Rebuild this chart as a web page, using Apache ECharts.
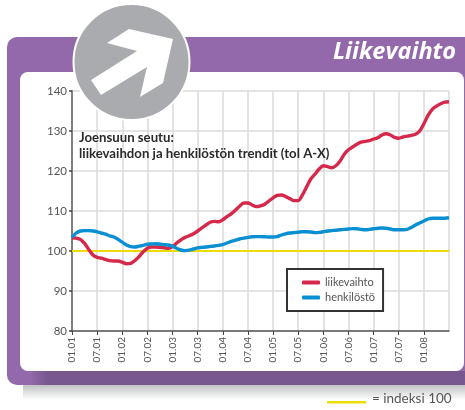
<!DOCTYPE html>
<html><head><meta charset="utf-8">
<style>html,body{margin:0;padding:0;background:#fff}#c{width:465px;height:410px}</style>
<script src="https://cdn.jsdelivr.net/npm/echarts@6/dist/echarts.min.js"></script>
</head><body><div id="c"></div>
<script>
const categories = [
"01.01","02.01","03.01","04.01","05.01","06.01","07.01","08.01","09.01","10.01","11.01","12.01",
"01.02","02.02","03.02","04.02","05.02","06.02","07.02","08.02","09.02","10.02","11.02","12.02",
"01.03","02.03","03.03","04.03","05.03","06.03","07.03","08.03","09.03","10.03","11.03","12.03",
"01.04","02.04","03.04","04.04","05.04","06.04","07.04","08.04","09.04","10.04","11.04","12.04",
"01.05","02.05","03.05","04.05","05.05","06.05","07.05","08.05","09.05","10.05","11.05","12.05",
"01.06","02.06","03.06","04.06","05.06","06.06","07.06","08.06","09.06","10.06","11.06","12.06",
"01.07","02.07","03.07","04.07","05.07","06.07","07.07","08.07","09.07","10.07","11.07","12.07",
"01.08","02.08","03.08","04.08","05.08","06.08",""];
const liikevaihto = [
103.3,103.2,102.9,101.9,100.4,99,98.4,98.2,97.9,97.6,97.5,97.5,
97.2,96.8,96.9,97.6,98.6,99.8,100.7,101,101,100.9,100.8,100.7,
101.1,102,102.8,103.4,103.8,104.3,105,105.8,106.5,107.2,107.4,107.3,
107.8,108.6,109.3,110.2,111.2,112,112,111.5,111.1,111.3,111.7,112.5,
113.3,113.9,114,113.6,113.1,112.6,112.6,114,116,118,119.2,120.5,
121.3,121.1,120.8,121.3,122.5,124.2,125.3,126,126.7,127.2,127.4,127.6,
128,128.3,129,129.3,129,128.4,128.2,128.5,128.7,128.9,129.2,130,
131.8,133.9,135.4,136.2,136.8,137.2,137.3];
const henkilosto = [
103.4,104.5,105,105.1,105.1,105,104.8,104.5,104.2,103.8,103.5,102.9,
102.2,101.5,101.1,101,101.2,101.4,101.7,101.75,101.8,101.7,101.6,101.5,
101.2,100.7,100.25,100.1,100.2,100.5,100.8,100.9,101,101.15,101.25,101.4,
101.6,102,102.4,102.7,103,103.2,103.4,103.55,103.6,103.6,103.55,103.5,
103.5,103.6,104,104.3,104.5,104.6,104.7,104.8,104.8,104.75,104.6,104.65,
104.8,105,105.1,105.2,105.3,105.4,105.5,105.6,105.55,105.4,105.3,105.4,
105.55,105.7,105.75,105.7,105.5,105.3,105.3,105.3,105.4,105.9,106.5,107,
107.5,108,108.2,108.2,108.2,108.2,108.3];
const indexLevel = 100;
const yMin = 80, yMax = 140, yStep = 10;
const FONT = 'Lato,sans-serif';
const chart = echarts.init(document.getElementById('c'), null, {renderer:'canvas'});
const gridTop = 91, gridH = 240, gridL = 72, gridW = 377;
chart.setOption({
  animation:false,
  backgroundColor:'#fff',
  grid:{left:gridL, top:gridTop, width:gridW, height:gridH},
  xAxis:{type:'category', data:categories, boundaryGap:false,
    axisLine:{show:true, onZero:false, lineStyle:{color:'#555', width:1.5}},
    axisTick:{show:true, interval:5, length:4, lineStyle:{color:'#444', width:1}},
    axisLabel:{interval:5, rotate:90, color:'#555', fontFamily:FONT, fontSize:10, margin:6, showMaxLabel:false},
    splitLine:{show:true, interval:5, lineStyle:{color:'#dcdcdc', width:1.6}}
  },
  yAxis:{type:'value', min:yMin, max:yMax, interval:yStep,
    axisLine:{show:true, lineStyle:{color:'#808080', width:2}},
    axisTick:{show:true, length:3, lineStyle:{color:'#444', width:1.5}},
    axisLabel:{color:'#555', fontFamily:FONT, fontSize:11.5, margin:5},
    splitLine:{show:true, lineStyle:{color:'#e4e4e4', width:2}}
  },
  legend:{left:287, top:269, orient:'vertical', padding:[8,8,8,15], itemGap:4, itemWidth:18, itemHeight:4,
    icon:'roundRect', backgroundColor:'#fff', borderColor:'#333', borderWidth:2,
    textStyle:{color:'#555', fontFamily:FONT, fontSize:11, padding:[0,0,0,0]},
    data:['liikevaihto','henkilöstö']},
  series:[
    {name:'liikevaihto', type:'line', data:liikevaihto, showSymbol:false, smooth:0.3, z:4,
      lineStyle:{color:'#d5284b', width:3.4}, itemStyle:{color:'#d5284b'},
      markLine:{silent:true, symbol:'none', z:2, label:{show:false},
        lineStyle:{color:'#ecdc00', width:2, type:'solid'}, data:[{yAxis:indexLevel}]}},
    {name:'henkilöstö', type:'line', data:henkilosto, showSymbol:false, smooth:0.3, z:5,
      lineStyle:{color:'#0a8fd3', width:3.4}, itemStyle:{color:'#0a8fd3'}}
  ],
  graphic:[
    {type:'rect', z:-20, silent:true, shape:{x:23,y:380,width:442,height:20},
      style:{fill:new echarts.graphic.LinearGradient(0,0,0,1,[{offset:0,color:'#b8babc'},{offset:0.3,color:'#c4c6c8'},{offset:1,color:'#ffffff'}])}},
    {type:'rect', z:-19, silent:true, shape:{x:7,y:37,width:470,height:348,r:[10,0,0,10]}, style:{fill:'#9369ab'}},
    {type:'rect', z:-18, silent:true, shape:{x:30,y:371,width:440,height:14},
      style:{fill:new echarts.graphic.LinearGradient(0,0,1,0,[{offset:0,color:'#9369ab'},{offset:0.04,color:'#78578f'},{offset:1,color:'#78578f'}])}},
    {type:'rect', z:-17, silent:true, shape:{x:20,y:72,width:444,height:299,r:8}, style:{fill:'#fff'}},
    {type:'text', z:50, silent:true, style:{text:'Liikevaihto', x:456, y:52, align:'right', verticalAlign:'middle',
      fill:'#fff', font:'italic bold 23.5px "Open Sans",sans-serif'}},
    {type:'circle', z:60, silent:true, shape:{cx:131.5,cy:62,r:58}, style:{fill:'#a9abae', stroke:'#fff', lineWidth:2}},
    {type:'polygon', z:61, silent:true, shape:{points:[[107,43],[129,29],[173,39],[163,83],[140,97],[147,67],[101,95],[91,80],[137,51]]}, style:{fill:'#fff'}},
    {type:'text', z:50, silent:true, style:{text:'Joensuun seutu:\nliikevaihdon ja henkilöstön trendit (tol A-X)', x:79, y:130,
      fill:'#2b2b2b', font:'bold 13.2px Lato,sans-serif', lineHeight:16}},
    {type:'rect', z:50, silent:true, shape:{x:327,y:401,width:39,height:2.5}, style:{fill:'#ecdc00'}},
    {type:'text', z:50, silent:true, style:{text:'= indeksi 100', x:372, y:399, verticalAlign:'middle',
      fill:'#555', font:'13.5px Lato,sans-serif'}}
  ]
});
</script></body></html>
